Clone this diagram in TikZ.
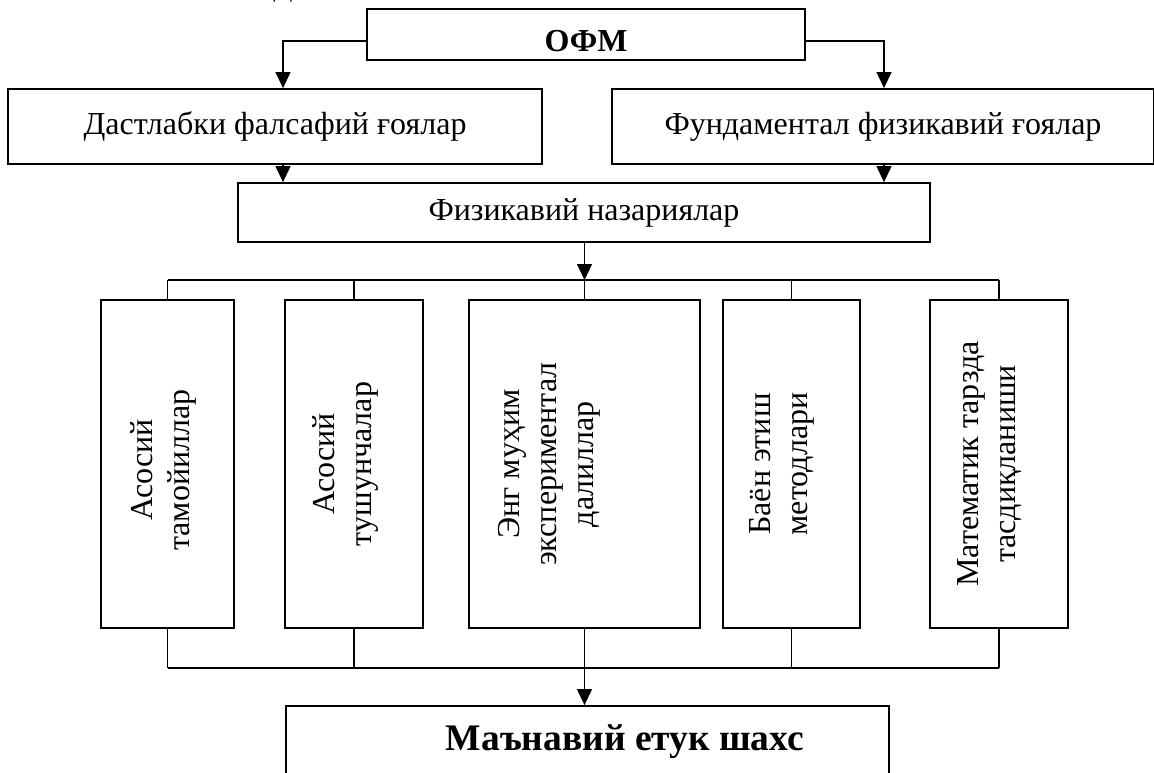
\documentclass[tikz,border=0pt]{standalone}
\usepackage{fontspec}
\setmainfont{Liberation Serif}
\usetikzlibrary{arrows.meta}
\usetikzlibrary{positioning}
\usetikzlibrary{calc}

\tikzset{
  hbox/.style={draw, line width=1.8pt, inner sep=0pt, font=\fontsize{32}{36}\selectfont},
  vbox/.style={draw, line width=1.6pt, inner sep=0pt, minimum height=328pt},
  vtext/.style={rotate=90, align=center, font=\fontsize{32}{37}\selectfont},
  conn/.style={line width=1.1pt},
  bus/.style={line width=2pt},
  arr/.style={line width=1.1pt, -{Triangle[length=16pt,width=15pt]}}
}

\begin{document}
\begin{tikzpicture}[x=1pt,y=-1pt]
  \useasboundingbox (0,0) rectangle (1154,773);
  % cut-off caption letter at the top edge
  \node[font=\fontsize{28}{32}\selectfont] (cap) at (283,-10) {Д};
  % top level
  \node[hbox, minimum width=438pt, minimum height=51pt] (ofm) at (586,34.5) {};
  \node[font=\bfseries\fontsize{32}{36}\selectfont] (ofmtext) at (586,41) {ОФМ};
  \node[hbox, minimum width=534pt, minimum height=75pt] (dast) at (275,126.5) {Дастлабки фалсафий ғоялар};
  \node[hbox, minimum width=542pt, minimum height=75pt] (fund) at (883,126.5) {Фундаментал физикавий ғоялар};
  \node[hbox, minimum width=692pt, minimum height=59pt] (fiz) at (584,212.5) {Физикавий назариялар};
  % five columns
  \node[vbox, minimum width=133pt] (b1) at (167.5,464) {};
  \node[vbox, minimum width=138pt] (b2) at (354,464) {};
  \node[vbox, minimum width=231pt] (b3) at (584.5,464) {};
  \node[vbox, minimum width=137pt] (b4) at (791.5,464) {};
  \node[vbox, minimum width=138pt] (b5) at (999,464) {};
  \node[vtext] (t1) at ([xshift=-4pt,yshift=-6pt]b1) {Асосий\\тамойиллар};
  \node[vtext] (t2) at ([xshift=-9pt]b2) {Асосий\\тушунчалар};
  \node[vtext] (t3) at ([xshift=-35pt]b3) {Энг муҳим\\экспериментал\\далиллар};
  \node[vtext] (t4) at ([xshift=-10pt]b4) {Баён этиш\\методлари};
  \node[vtext] (t5) at ([xshift=-9pt]b5) {Математик тарзда\\тасдиқланиши};
  % bottom
  \node[hbox, minimum width=603pt, minimum height=100pt] (man) at (587.5,756) {};
  \node[font=\bfseries\fontsize{37.5}{42}\selectfont] (mantext) at (625,742) {Маънавий етук шахс};
  % buses
  \coordinate (bustop) at (584.5,280);
  \coordinate (busbot) at (584.5,668);
  % arrows
  \draw[arr] ([yshift=-6.5pt]ofm.west) -| ([xshift=8pt]dast.north);
  \draw[arr] ([yshift=-6.5pt]ofm.east) -| ([xshift=1pt]fund.north);
  \draw[arr] ([xshift=8pt]dast.south) -- ([xshift=8pt]dast.south |- fiz.north);
  \draw[arr] ([xshift=1pt]fund.south) -- ([xshift=1pt]fund.south |- fiz.north);
  \draw[arr] (fiz.south -| bustop) -- (bustop);
  \draw[bus] (b1.north |- bustop) -- (b5.north |- bustop);
  \draw[bus] (b1.south |- busbot) -- (b5.south |- busbot);
  \foreach \b in {b1,b2,b3,b4,b5} {
    \draw[conn] (\b.north |- bustop) -- (\b.north);
    \draw[conn] (\b.south) -- (\b.south |- busbot);
  }
  \draw[arr] (busbot) -- (busbot |- man.north);
\end{tikzpicture}
\end{document}
